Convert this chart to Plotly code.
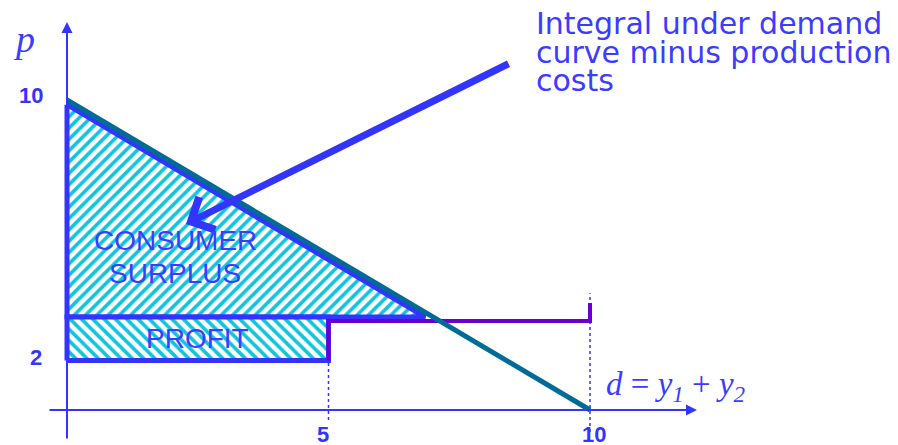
import plotly.graph_objects as go

# ---------------- data ----------------
demand_q = [0, 10]
demand_p = [10, 0]

cs_q = [0, 0, 6.85]          # consumer surplus triangle
cs_p = [9.85, 3.0, 3.0]

profit_q = [0, 5, 5, 0]      # profit rectangle
profit_p = [1.6, 1.6, 3.0, 3.0]

supply_q = [5, 5, 10, 10]    # supply step
supply_p = [1.6, 2.87, 2.87, 3.45]

guide_q = [5, 10]            # dotted reference lines
guide_top = [1.6, 3.77]
guide_bottom = [-0.32, -0.71]

ytick_vals = [10, 1.6]
ytick_text = ["10", "2"]
xtick_vals = [5, 10]
xtick_text = ["5", "10"]

# ---------------- layout mapping ----------------
W, H = 898, 445
PAGE = 8                  # default page margin of the html body
X0PX, XPU = 67, 52.3      # screen pixel of q=0, pixels per unit
Y0PX, YPU = 410, 31.0     # screen pixel of p=0, pixels per unit


def dx(px):
    return (px - X0PX) / XPU


def dy(py):
    return (Y0PX - py) / YPU


BLUE = "#3434ff"
TXT = "#3c3cff"
TEAL = "#006b96"
PURPLE = "#6a00cc"
CYAN = "#10c4de"

fig = go.Figure()

# consumer surplus (hatched /)
fig.add_trace(go.Scatter(
    x=cs_q + cs_q[:1], y=cs_p + cs_p[:1], mode="lines", fill="toself",
    fillcolor="white",
    fillpattern=dict(shape="/", fgcolor=CYAN, bgcolor="white", size=8, solidity=0.45,
                     fgopacity=1),
    line=dict(color=BLUE, width=5), hoverinfo="skip", showlegend=False))

# profit (hatched \)
fig.add_trace(go.Scatter(
    x=profit_q + profit_q[:1], y=profit_p + profit_p[:1], mode="lines", fill="toself",
    fillcolor="white",
    fillpattern=dict(shape="\\", fgcolor=CYAN, bgcolor="white", size=8, solidity=0.45,
                     fgopacity=1),
    line=dict(color=BLUE, width=5), hoverinfo="skip", showlegend=False))

# dotted guides
for q, top, bot in zip(guide_q, guide_top, guide_bottom):
    fig.add_trace(go.Scatter(x=[q, q], y=[bot, top], mode="lines",
                             line=dict(color=BLUE, width=1.5, dash="dot"),
                             hoverinfo="skip", showlegend=False))

# supply step
fig.add_trace(go.Scatter(x=supply_q, y=supply_p, mode="lines",
                         line=dict(color=PURPLE, width=4),
                         hoverinfo="skip", showlegend=False))

# demand
fig.add_trace(go.Scatter(x=demand_q, y=demand_p, mode="lines",
                         line=dict(color=TEAL, width=5),
                         hoverinfo="skip", showlegend=False))

ann = []
# axes with arrows
ann.append(dict(x=dx(697), y=0, ax=dx(48), ay=0, xref="x", yref="y", axref="x", ayref="y",
                showarrow=True, arrowhead=2, arrowsize=1.1, arrowwidth=2, arrowcolor=BLUE,
                standoff=0, text=""))
ann.append(dict(x=0, y=dy(22), ax=0, ay=dy(440), xref="x", yref="y", axref="x", ayref="y",
                showarrow=True, arrowhead=2, arrowsize=1.1, arrowwidth=2, arrowcolor=BLUE,
                standoff=0, text=""))
# big pointer arrow
ann.append(dict(x=dx(186), y=dy(224), ax=dx(510), ay=dy(63), xref="x", yref="y",
                axref="x", ayref="y", showarrow=True, arrowhead=4, arrowsize=1.0,
                arrowwidth=7, arrowcolor=BLUE, standoff=0, text=""))

# tick labels
tickfont = dict(family="Liberation Sans, Arial", size=22, color=BLUE)
for v, t, sh in zip(ytick_vals, ytick_text, [5, 3]):
    ann.append(dict(x=dx(31) if t == "10" else dx(36), y=v, yshift=sh, xref="x", yref="y",
                    text="<b>%s</b>" % t, showarrow=False, font=tickfont,
                    xanchor="center", yanchor="middle"))
for v, t, sh in zip(xtick_vals, xtick_text, [-6, 4]):
    ann.append(dict(x=v, xshift=sh, y=dy(434), xref="x", yref="y", text="<b>%s</b>" % t,
                    showarrow=False, font=tickfont, xanchor="center", yanchor="middle"))

# axis titles
ann.append(dict(x=dx(24), y=dy(39), xref="x", yref="y", text="<i>p</i>", showarrow=False,
                font=dict(family="Liberation Serif, Times New Roman", size=38, color=TXT)))
ann.append(dict(x=dx(604), y=dy(386), xref="x", yref="y",
                text="<i>d</i> = <i>y</i><sub><i>1</i></sub> + <i>y</i><sub><i>2</i></sub>",
                showarrow=False, xanchor="left", yanchor="middle",
                font=dict(family="Liberation Serif, Times New Roman", size=33, color=TXT)))

# region labels
lab = dict(family="Liberation Sans, Arial", size=28, color=TXT)
ann.append(dict(x=dx(175), y=dy(240), xref="x", yref="y", text="CONSUMER",
                showarrow=False, font=lab))
ann.append(dict(x=dx(175), y=dy(273), xref="x", yref="y", text="SURPLUS",
                showarrow=False, font=lab))
ann.append(dict(x=dx(197), y=dy(338), xref="x", yref="y", text="PROFIT",
                showarrow=False, font=lab))

# explanatory text
note_lines = ["Integral under demand", "curve minus production", "costs"]
note_y = [23, 52, 80]
for line, py in zip(note_lines, note_y):
    ann.append(dict(x=dx(534), y=dy(py), xref="x", yref="y", text=line, showarrow=False,
                    xanchor="left", yanchor="middle",
                    font=dict(family="DejaVu Sans, Verdana", size=30, color=TXT)))

fig.update_layout(
    width=W, height=H, margin=dict(l=0, r=0, t=0, b=0),
    paper_bgcolor="white", plot_bgcolor="white",
    # the figure is drawn PAGE px right/down of the window corner
    xaxis=dict(visible=False, range=[dx(PAGE), dx(PAGE + W)], fixedrange=True),
    yaxis=dict(visible=False, range=[dy(PAGE + H), dy(PAGE)], fixedrange=True),
    annotations=ann, showlegend=False,
)

fig.write_html("out.html")
